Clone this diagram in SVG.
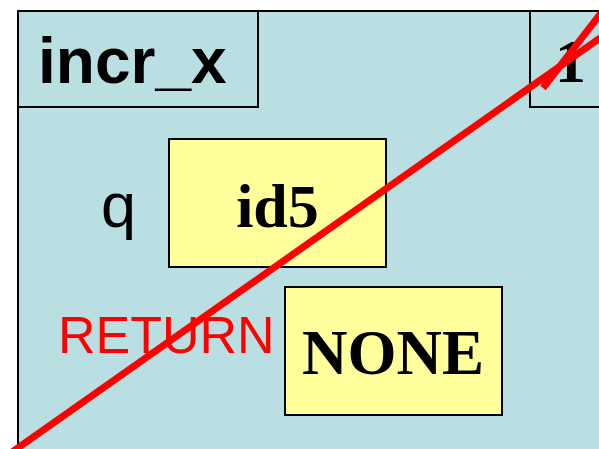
<svg xmlns="http://www.w3.org/2000/svg" width="599" height="449" viewBox="0 0 599 449">
<style>
.frame{fill:#B9DFE3;stroke:#000;stroke-width:2}
.val{fill:#FFFF9C;stroke:#000;stroke-width:2}
.sans{font-family:"Liberation Sans",Arial,sans-serif}
.serif{font-family:"Liberation Serif","Times New Roman",serif;font-weight:bold}
.cross{stroke:#FF0000;stroke-width:7;fill:none}
</style>
<rect width="599" height="449" fill="#fff"/>
<g id="frame">
<rect class="frame" x="18" y="11" width="600" height="460"/>
</g>
<g id="title">
<rect class="frame" x="18" y="11" width="240" height="96"/>
<text class="sans" x="38" y="83" font-size="64" font-weight="bold">incr_x</text>
</g>
<g id="num">
<rect class="frame" x="530" y="11" width="100" height="96"/>
<text class="serif" x="555" y="82" font-size="62">1</text>
</g>
<g id="q">
<text class="sans" x="101" y="227" font-size="63">q</text>
<rect class="val" x="169" y="139" width="217" height="128"/>
<text class="serif" x="277.5" y="227" font-size="62" text-anchor="middle">id5</text>
</g>
<g id="return">
<text class="sans" x="58" y="353" font-size="52" fill="#FF0000">RETURN</text>
<rect class="val" x="285" y="287" width="217" height="128"/>
<text class="serif" x="393" y="374" font-size="63" text-anchor="middle">NONE</text>
</g>
<g id="connectors">
<line class="cross" x1="5" y1="457" x2="620" y2="24"/>
<line class="cross" x1="543" y1="88" x2="612" y2="-1"/>
</g>
</svg>
